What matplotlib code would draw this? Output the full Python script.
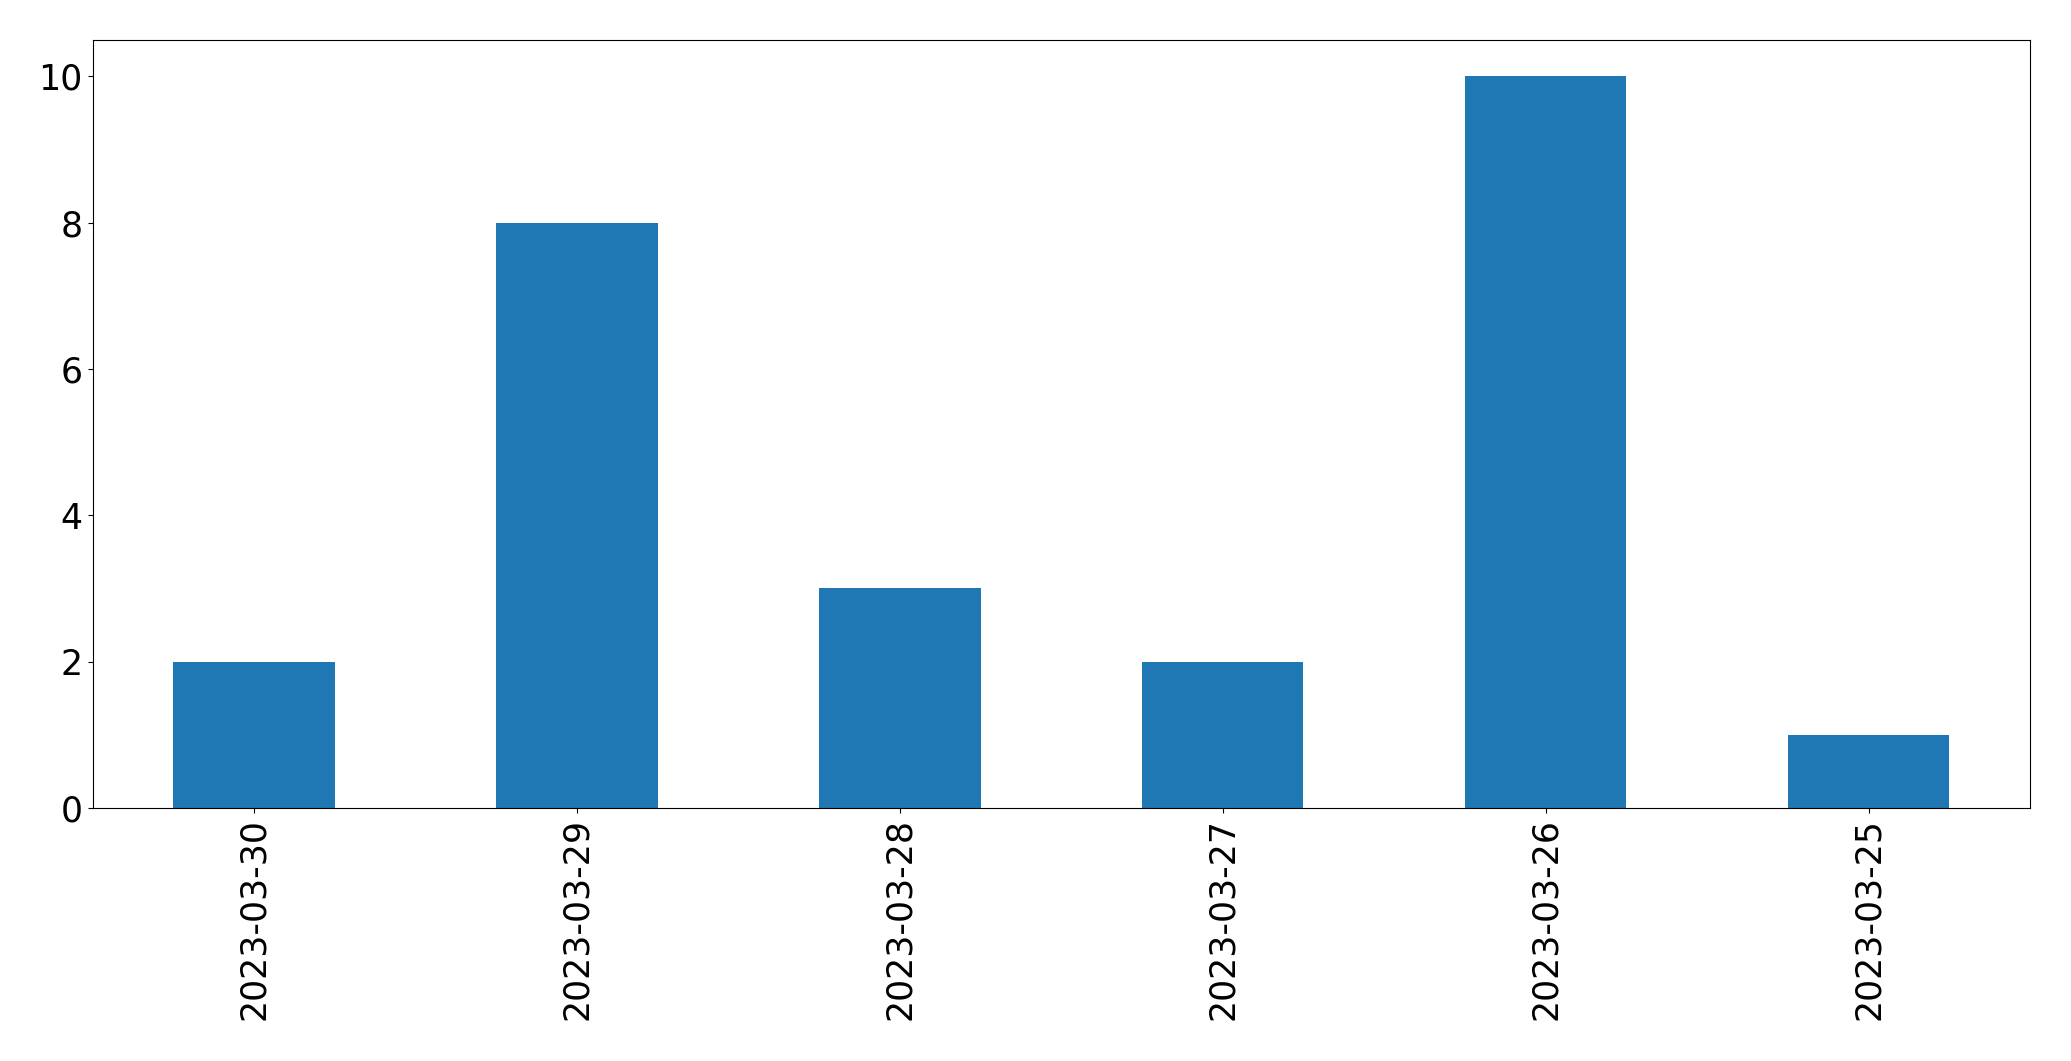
import matplotlib
matplotlib.use("Agg")
import matplotlib.pyplot as plt

dates = ["2023-03-30", "2023-03-29", "2023-03-28", "2023-03-27", "2023-03-26", "2023-03-25"]
counts = [2, 8, 3, 2, 10, 1]

fig = plt.figure(figsize=(20.71, 10.61), dpi=100)
ax = fig.add_axes([0.0447, 0.2384, 0.9355, 0.7243])
x = list(range(len(dates)))
ax.bar(x, counts, width=0.5, color="#1f77b4")
ax.set_xlim(-0.5, len(dates) - 0.5)
ax.set_ylim(0, 10.5)
ax.set_xticks(x)
ax.set_xticklabels(dates, rotation=90)
ax.tick_params(labelsize=25)
fig.savefig("out.png", dpi=100)
